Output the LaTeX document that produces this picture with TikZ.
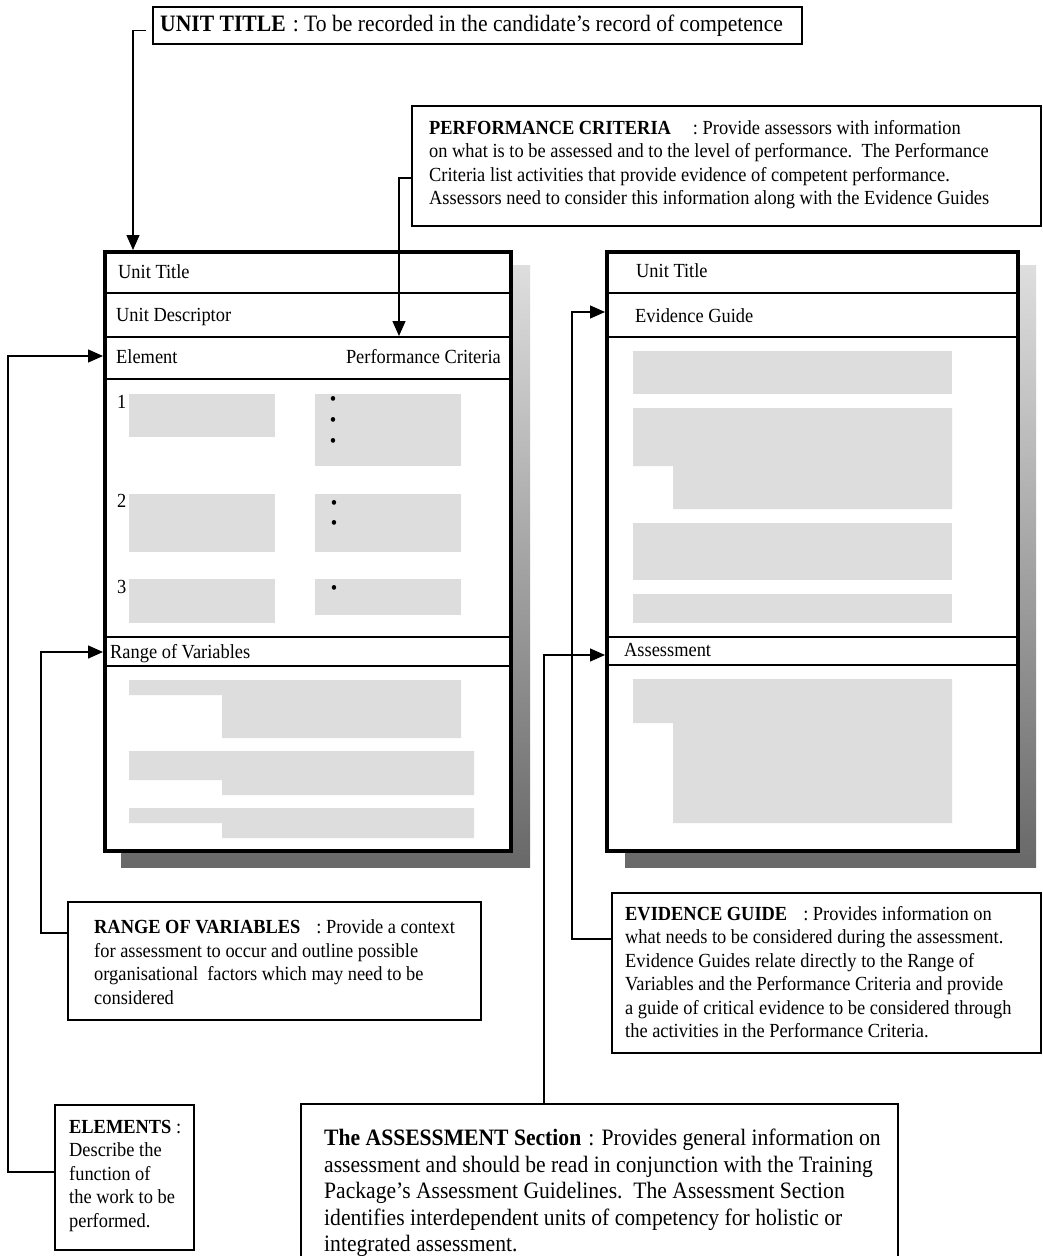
\documentclass[tikz,border=0pt]{standalone}
\usepackage{fontspec}
\setmainfont{Liberation Serif}[FakeStretch=0.92]
\usetikzlibrary{arrows.meta,calc}
\definecolor{blockgrey}{RGB}{221,221,221}
\definecolor{shadetop}{RGB}{222,222,222}
\definecolor{shadebot}{RGB}{104,104,104}
\tikzset{
  smalltext/.style={font=\fontsize{20}{23.5}\selectfont, inner sep=0pt, align=left},
  bigtext/.style={font=\fontsize{23.5}{26.5}\selectfont, inner sep=0pt, align=left},
  callout/.style={draw, line width=1.4pt, fill=white, anchor=north west, inner sep=0pt, outer sep=0pt},
  panel/.style={draw, line width=4.5pt, fill=white, anchor=north west, inner sep=0pt, outer sep=0pt},
  rowline/.style={line width=1.6pt},
  conn/.style={line width=1.4pt, -{Triangle[length=15pt,width=13pt]}},
  block/.style={fill=blockgrey},
  dropshadow/.style={top color=shadetop, bottom color=shadebot},
}
\begin{document}
\begin{tikzpicture}[x=1pt,y=-1pt]
\useasboundingbox (0,0) rectangle (1043,1256);
\fill[white] (0,0) rectangle (1043,1256);

% ---------- drop shadows behind the two unit pages ----------
\fill[dropshadow] (121,265) rectangle (530,867);
\fill[dropshadow] (625,265) rectangle (1036,867);

% ---------- left page: unit outline ----------
\node[panel, minimum width=406pt, minimum height=599pt] (lp) at (105,252) {};
\foreach \yy in {293,337,379,637,666} \draw[rowline] (105,\yy) -- (511,\yy);

\node[smalltext, anchor=base west] (lpUT) at (118,278.5) {Unit Title};
\node[smalltext, anchor=base west] (lpUD) at (116,321.5) {Unit Descriptor};
\node[smalltext, anchor=base west] (lpEl) at (116,363.5) {Element};
\node[smalltext, anchor=base east] (lpPC) at (501,363.5) {Performance Criteria};
\node[smalltext, anchor=base west] (lpRV) at (110,658.5) {Range of Variables};

% element / criteria placeholders
\fill[block] (129,394) rectangle (275,437);
\fill[block] (315,394) rectangle (461,466);
\fill[block] (129,494) rectangle (275,552);
\fill[block] (315,494) rectangle (461,552);
\fill[block] (129,579) rectangle (275,623);
\fill[block] (315,579) rectangle (461,615);

\node[smalltext, anchor=base west] (n1) at (117,408.5) {1};
\node[smalltext, anchor=base west] (n2) at (117,507.5) {2};
\node[smalltext, anchor=base west] (n3) at (117,593.5) {3};

\node[smalltext] (b11) at (333,401) {\textbullet};
\node[smalltext] (b12) at (333,422) {\textbullet};
\node[smalltext] (b13) at (333,443) {\textbullet};
\node[smalltext] (b21) at (334,505) {\textbullet};
\node[smalltext] (b22) at (334,525) {\textbullet};
\node[smalltext] (b31) at (334,590) {\textbullet};

% range of variables placeholders
\fill[block] (129,680) -- (461,680) -- (461,738) -- (222,738) -- (222,695) -- (129,695) -- cycle;
\fill[block] (129,751) -- (474,751) -- (474,795) -- (222,795) -- (222,780) -- (129,780) -- cycle;
\fill[block] (129,808) -- (474,808) -- (474,838) -- (222,838) -- (222,823) -- (129,823) -- cycle;

% ---------- right page: evidence guide ----------
\node[panel, minimum width=411pt, minimum height=599pt] (rp) at (607,252) {};
\foreach \yy in {293,337,637,665} \draw[rowline] (607,\yy) -- (1018,\yy);

\node[smalltext, anchor=base west] (rpUT) at (636,277.5) {Unit Title};
\node[smalltext, anchor=base west] (rpEG) at (635,322.5) {Evidence Guide};
\node[smalltext, anchor=base west] (rpAs) at (624,656.5) {Assessment};

\fill[block] (633,351) rectangle (952,394);
\fill[block] (633,408) -- (952,408) -- (952,509) -- (673,509) -- (673,466) -- (633,466) -- cycle;
\fill[block] (633,523) rectangle (952,580);
\fill[block] (633,594) rectangle (952,623);
\fill[block] (633,679) -- (952,679) -- (952,823) -- (673,823) -- (673,723) -- (633,723) -- cycle;

% ---------- explanatory call-outs ----------
\node[callout, minimum width=649pt, minimum height=37pt] (ttl) at (153,7) {};
\node[bigtext, anchor=base west] (ttlT) at (160,31.5)
  {\textbf{UNIT TITLE}\hspace{0.3em}: To be recorded in the candidate’s record of competence};

\node[callout, minimum width=629pt, minimum height=120pt] (pcb) at (412,106) {};
\node[smalltext, anchor=north west] (pcT) at (429,119.8)
  {\textbf{PERFORMANCE CRITERIA}\hspace{1.1em}: Provide assessors with information\\
   on what is to be assessed and to the level of performance.\ \ The Performance\\
   Criteria list activities that provide evidence of competent performance.\\
   Assessors need to consider this information along with the Evidence Guides};

\node[callout, minimum width=429pt, minimum height=160pt] (egb) at (612,893) {};
\node[smalltext, anchor=north west] (egT) at (625,905.8)
  {\textbf{EVIDENCE GUIDE}\hspace{0.8em}: Provides information on\\
   what needs to be considered during the assessment.\\
   Evidence Guides relate directly to the Range of\\
   Variables and the Performance Criteria and provide\\
   a guide of critical evidence to be considered through\\
   the activities in the Performance Criteria.};

\node[callout, minimum width=413pt, minimum height=118pt] (rvb) at (68,902) {};
\node[smalltext, anchor=north west] (rvT) at (94,919.8)
  {\textbf{RANGE OF VARIABLES}\hspace{0.8em}: Provide a context\\
   for assessment to occur and outline possible\\
   organisational\ \ factors which may need to be\\
   considered};

\node[callout, minimum width=139pt, minimum height=145pt] (elb) at (55,1105) {};
\node[smalltext, anchor=north west] (elT) at (69,1119.8)
  {\textbf{ELEMENTS} :\\
   Describe the\\
   function of\\
   the work to be\\
   performed.};

\node[callout, minimum width=597pt, minimum height=175pt] (asb) at (301,1104) {};
\node[bigtext, anchor=north west] (asT) at (324,1128.8)
  {\textbf{The ASSESSMENT Section}\hspace{0.3em}: Provides general information on\\
   assessment and should be read in conjunction with the Training\\
   Package’s Assessment Guidelines.\ \ The Assessment Section\\
   identifies interdependent units of competency for holistic or\\
   integrated assessment.};

% ---------- arrival points on the pages ----------
\coordinate (inUT) at (133,250);
\coordinate (inPC) at (399,336);
\coordinate (inEl) at (103,356);
\coordinate (inRV) at (103,652);
\coordinate (inEG) at (605,312);
\coordinate (inAS) at (605,655);

% ---------- connectors ----------
\draw[conn, shorten <=7pt] ([yshift=-5pt]ttl.west) -| (inUT);
\draw[conn] ([yshift=-12pt]pcb.west) -| (inPC);
\draw[conn] ([yshift=5.5pt]elb.west) -| (8,356) -- (inEl);
\draw[conn] ([yshift=28pt]rvb.west) -| (41,652) -- (inRV);
\draw[conn] ([yshift=34pt]egb.west) -| (572,312) -- (inEG);
\draw[conn] ([xshift=-55.5pt]asb.north) |- (inAS);
\end{tikzpicture}
\end{document}
